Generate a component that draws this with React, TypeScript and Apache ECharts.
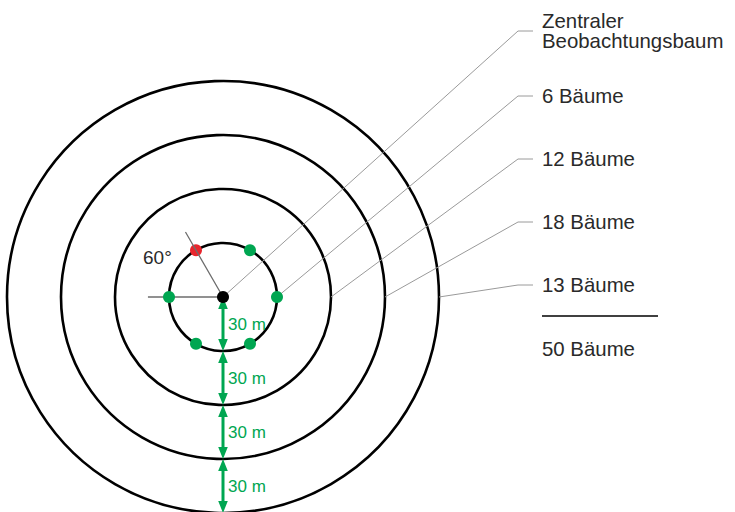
import React, { useEffect, useRef } from "react";
import * as echarts from "echarts";

// ---- data ----
const ringRadii = [30, 60, 90, 120]; // metres
const ringInterval = 30;
const innerTreeRadius = 30;
const greenTreeAngles = [0, 60, 180, 240, 300];
const redTreeAngles = [120];
const centralTree = [[0, 0]];
const angleLineLength = 41.7; // metres
const angleLineAngles = [180, 120];
const angleLabel = "60°";
const segmentStarts = [0, 30, 60, 90];
const segmentEnds = [30, 60, 90, 120];
const segmentLabel = "30 m";
const legendTexts = ["Zentraler\nBeobachtungsbaum", "6 Bäume", "12 Bäume", "18 Bäume", "13 Bäume"];
const legendAnchorRadii = [0, 30, 60, 90, 120];
const totalText = "50 Bäume";

// ---- layout ----
const CX = 223;
const CY = 297;
const R = 216;
const LABEL_Y = [31, 96, 159, 222, 285];
const BEND_X = 518;
const HOOK_X = 533;
const TEXT_X = 542;
const GREEN = "#00a651";
const RED = "#e8262d";
const FONT = "'Liberation Sans', Arial, Helvetica, sans-serif";
const TEXT_COLOR = "#2a2a2a";
const TEXT_SIZE = 20.4;

export default function App() {
  const ref = useRef<HTMLDivElement>(null);
  useEffect(() => {
    if (!ref.current) return;
    const chart = echarts.init(ref.current, null, { renderer: "svg" });
    const option: any = {
      animation: false,
      backgroundColor: "#ffffff",
      polar: { center: [CX, CY], radius: R },
      angleAxis: {
        type: "value",
        min: 0,
        max: 360,
        startAngle: 0,
        clockwise: false,
        axisLine: { show: false },
        axisTick: { show: false },
        axisLabel: { show: false },
        splitLine: { show: false },
      },
      radiusAxis: {
        type: "value",
        min: 0,
        max: ringRadii[ringRadii.length - 1],
        interval: ringInterval,
        axisLine: { show: false },
        axisTick: { show: false },
        axisLabel: { show: false },
        splitLine: { show: true, lineStyle: { color: "#000", width: 2.6 } },
      },
      series: [
        {
          type: "scatter",
          coordinateSystem: "polar",
          data: redTreeAngles.map((a) => [innerTreeRadius, a]),
          symbol: "circle",
          symbolSize: 12,
          itemStyle: { color: RED, opacity: 1 },
          z: 2,
          silent: true,
        },
        {
          type: "line",
          coordinateSystem: "polar",
          data: [
            [angleLineLength, angleLineAngles[0]],
            [0, 0],
            [angleLineLength, angleLineAngles[1]],
          ],
          symbol: "none",
          lineStyle: { color: "#6e6e6e", width: 1.3 },
          z: 3,
          silent: true,
        },
        {
          type: "scatter",
          coordinateSystem: "polar",
          data: greenTreeAngles.map((a) => [innerTreeRadius, a]),
          symbol: "circle",
          symbolSize: 12,
          itemStyle: { color: GREEN, opacity: 1 },
          z: 4,
          silent: true,
        },
        {
          type: "custom",
          coordinateSystem: "polar",
          data: segmentStarts.map((s, i) => [s, segmentEnds[i]]),
          z: 5,
          silent: true,
          renderItem: (params: any, api: any) => {
            const p0 = api.coord([api.value(0), 270]);
            const p1 = api.coord([api.value(1), 270]);
            const x = p0[0];
            const y0 = p0[1];
            const y1 = p1[1];
            const hl = 12;
            const hw = 4.8;
            return {
              type: "group",
              children: [
                {
                  type: "line",
                  shape: { x1: x, y1: y0 + hl - 2, x2: x, y2: y1 - hl + 2 },
                  style: { stroke: GREEN, lineWidth: 3 },
                },
                {
                  type: "polygon",
                  shape: { points: [[x, y0], [x - hw, y0 + hl], [x + hw, y0 + hl]] },
                  style: { fill: GREEN },
                },
                {
                  type: "polygon",
                  shape: { points: [[x, y1], [x - hw, y1 - hl], [x + hw, y1 - hl]] },
                  style: { fill: GREEN },
                },
                {
                  type: "text",
                  x: x + 5,
                  y: (y0 + y1) / 2,
                  style: {
                    text: segmentLabel,
                    fill: GREEN,
                    fontSize: 17,
                    fontFamily: FONT,
                    verticalAlign: "middle",
                    align: "left",
                  },
                },
              ],
            };
          },
        },
        {
          type: "scatter",
          coordinateSystem: "polar",
          data: centralTree,
          symbol: "circle",
          symbolSize: 12,
          itemStyle: { color: "#000", opacity: 1 },
          z: 6,
          silent: true,
        },
      ],
    };
    chart.setOption(option);

    const graphics: any[] = [];
    legendTexts.forEach((t, i) => {
      const p = chart.convertToPixel({ seriesIndex: 0 }, [legendAnchorRadii[i], 0]) as number[];
      graphics.push({
        type: "polyline",
        shape: { points: [[p[0], p[1]], [BEND_X, LABEL_Y[i]], [HOOK_X, LABEL_Y[i]]] },
        style: { stroke: "#9a9a9a", lineWidth: 1, fill: null },
        z: 1,
        silent: true,
      });
      graphics.push({
        type: "text",
        x: TEXT_X,
        y: LABEL_Y[i],
        style: {
          text: t,
          fill: TEXT_COLOR,
          fontSize: TEXT_SIZE,
          lineHeight: 20,
          fontFamily: FONT,
          verticalAlign: "middle",
          align: "left",
        },
        z: 10,
      });
    });
    graphics.push({
      type: "line",
      shape: { x1: TEXT_X, y1: 316, x2: 658, y2: 316 },
      style: { stroke: "#000", lineWidth: 1.5 },
      z: 10,
    });
    graphics.push({
      type: "text",
      x: TEXT_X,
      y: 349,
      style: {
        text: totalText,
        fill: TEXT_COLOR,
        fontSize: TEXT_SIZE,
        fontFamily: FONT,
        verticalAlign: "middle",
        align: "left",
      },
      z: 10,
    });
    graphics.push({
      type: "text",
      x: 143,
      y: 257,
      style: {
        text: angleLabel,
        fill: TEXT_COLOR,
        fontSize: 19,
        fontFamily: FONT,
        verticalAlign: "middle",
        align: "left",
      },
      z: 10,
    });
    chart.setOption({ graphic: graphics });

    return () => chart.dispose();
  }, []);
  return (
    <div
      ref={ref}
      style={{ position: "fixed", left: 0, top: 0, width: 735, height: 512, background: "#fff" }}
    />
  );
}
